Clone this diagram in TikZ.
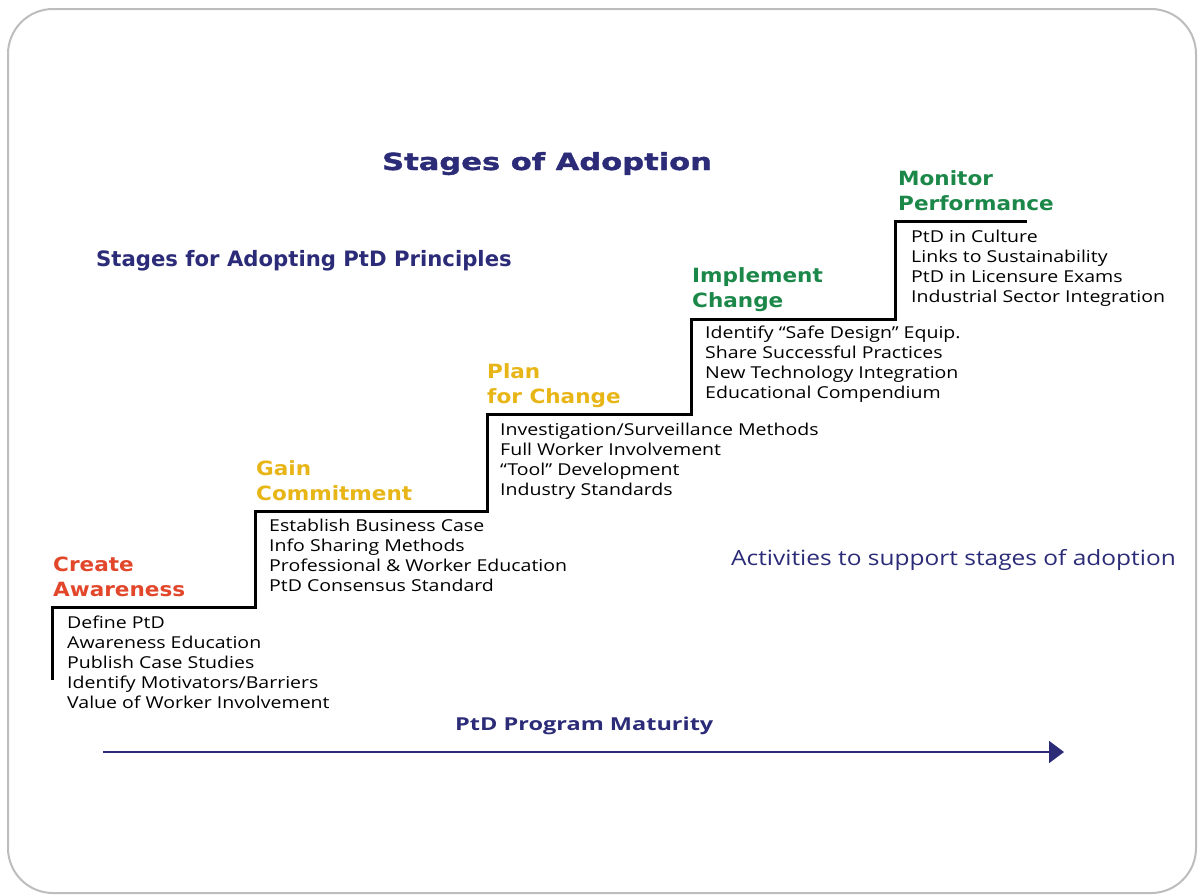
\documentclass[tikz,border=0pt]{standalone}
\usepackage{fontspec}
\setmainfont{Open Sans}
\newfontfamily\bodyfont{Open Sans}[FakeStretch=1.19]
\newfontfamily\stagefont{DejaVu Sans}[FakeStretch=1.1]
\newfontfamily\titlefont{DejaVu Sans}[FakeStretch=1.3, FakeBold=1.6]
\newfontfamily\subfont{DejaVu Sans}
\newfontfamily\matfont{Open Sans}[FakeStretch=1.32]
\newfontfamily\actfont{Open Sans}[FakeStretch=1.165]
\usetikzlibrary{arrows.meta}
\definecolor{navy}{HTML}{2B2B78}
\definecolor{sred}{HTML}{E2472B}
\definecolor{syellow}{HTML}{E8B517}
\definecolor{sgreen}{HTML}{1B8748}
\definecolor{framegray}{HTML}{BDBDBD}
\tikzset{
  stagetitle/.style={anchor=base west, inner sep=0pt, align=left, font=\stagefont\bfseries\fontsize{19.6}{25}\selectfont},
  stagebody/.style={anchor=base west, inner sep=0pt, align=left, font=\bodyfont\fontsize{16.4}{19.8}\selectfont, text=black},
  stair/.style={line width=3pt, line join=miter, black},
}
\begin{document}
\begin{tikzpicture}[x=1pt,y=-1pt]
\useasboundingbox (0,0) rectangle (1199,895);
\draw[framegray, line width=2pt, rounded corners=45pt] (8,9) rectangle (1196,893);

% titles
\node[anchor=base west, inner sep=0pt, text=navy, font=\titlefont\bfseries\fontsize{23.5}{28}\selectfont] (title) at (382,170) {Stages of Adoption};
\node[anchor=base west, inner sep=0pt, text=navy, font=\subfont\bfseries\fontsize{21.2}{26}\selectfont] (sub) at (96,266) {Stages for Adopting PtD Principles};
\node[anchor=base west, inner sep=0pt, text=navy, font=\actfont\fontsize{21}{26}\selectfont] (act) at (731,565) {Activities to support stages of adoption};
\node[anchor=base west, inner sep=0pt, text=navy, font=\matfont\bfseries\fontsize{17.8}{22}\selectfont] (mat) at (455,730) {PtD Program Maturity};

% staircase
\coordinate (s0) at (52,680);
\coordinate (s1) at (52,607);
\coordinate (s2) at (255,607);
\coordinate (s3) at (255,511);
\coordinate (s4) at (487,511);
\coordinate (s5) at (487,414);
\coordinate (s6) at (691,414);
\coordinate (s7) at (691,319);
\coordinate (s8) at (895,319);
\coordinate (s9) at (895,221);
\coordinate (s10) at (1027,221);
\draw[stair] (s0) -- (s1) -- (s2) -- (s3) -- (s4) -- (s5) -- (s6) -- (s7) -- (s8) -- (s9) -- (s10);

% stage titles (anchor = baseline of last line)
\node[stagetitle, text=sred] (t1) at (53,596) {Create\\Awareness};
\node[stagetitle, text=syellow] (t2) at (256,500) {Gain\\Commitment};
\node[stagetitle, text=syellow] (t3) at (487,403) {Plan\\for Change};
\node[stagetitle, text=sgreen] (t4) at (692,307) {Implement\\Change};
\node[stagetitle, text=sgreen] (t5) at (898,210) {Monitor\\Performance};

% stage bodies (anchor = baseline of last line)
\node[stagebody] (b1) at (67,708) {Define PtD\\Awareness Education\\Publish Case Studies\\Identify Motivators/Barriers\\Value of Worker Involvement};
\node[stagebody] (b2) at (269,591) {Establish Business Case\\Info Sharing Methods\\Professional \& Worker Education\\PtD Consensus Standard};
\node[stagebody] (b3) at (500,495) {Investigation/Surveillance Methods\\Full Worker Involvement\\“Tool” Development\\Industry Standards};
\node[stagebody] (b4) at (705,398) {Identify “Safe Design” Equip.\\Share Successful Practices\\New Technology Integration\\Educational Compendium};
\node[stagebody] (b5) at (911,302) {PtD in Culture\\Links to Sustainability\\PtD in Licensure Exams\\Industrial Sector Integration};

% maturity arrow
\coordinate (a0) at (103,752);
\coordinate (a1) at (1064,752);
\draw[navy, line width=2pt, -{Triangle[length=15pt,width=22pt]}] (a0) -- (a1);
\end{tikzpicture}
\end{document}
